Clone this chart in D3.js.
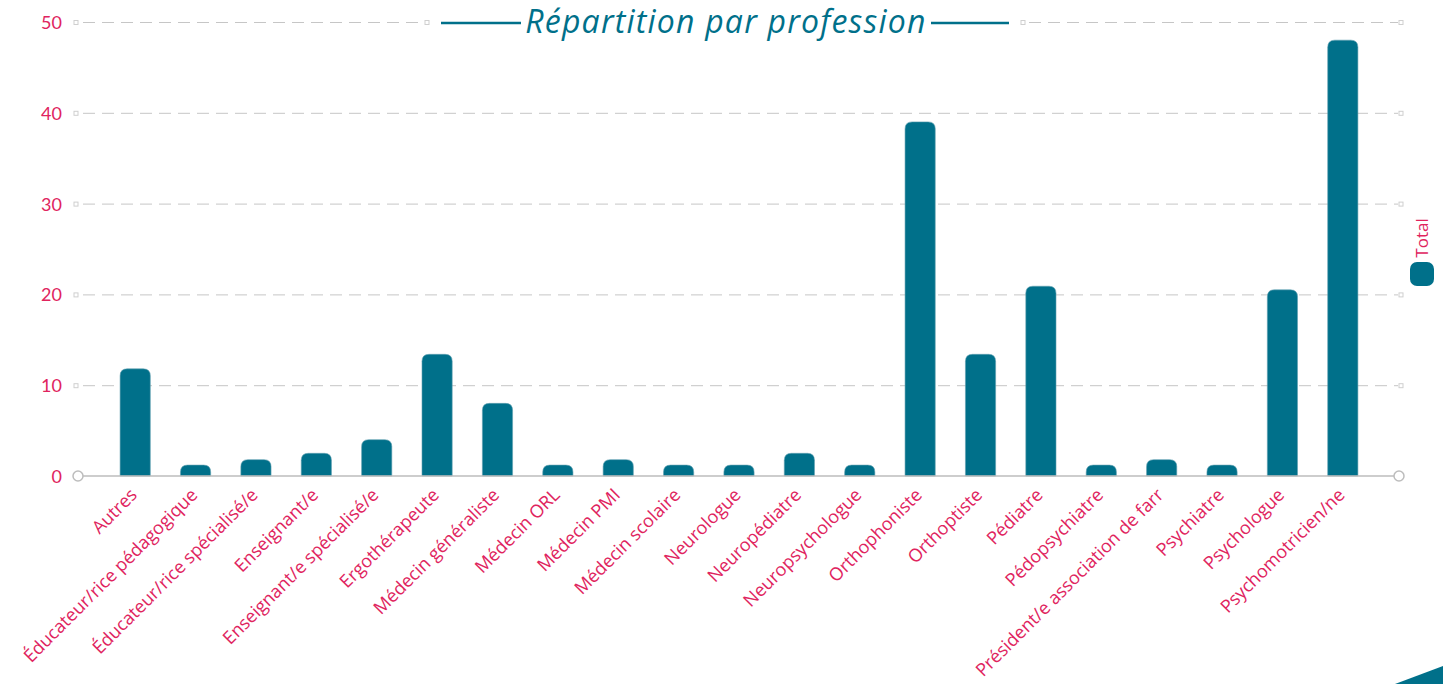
<!DOCTYPE html>
<html>
<head>
<meta charset="utf-8">
<script src="https://cdn.jsdelivr.net/npm/d3@7"></script>
<style>
  html, body { margin: 0; padding: 0; background: #fff; }
  svg { display: block; font-family: "Open Sans", "Noto Sans", sans-serif; }
</style>
</head>
<body>
<div id="chart"></div>
<script>
// data
var professions = ["Autres", "Éducateur/rice pédagogique", "Éducateur/rice spécialisé/e",
  "Enseignant/e", "Enseignant/e spécialisé/e", "Ergothérapeute", "Médecin généraliste",
  "Médecin ORL", "Médecin PMI", "Médecin scolaire", "Neurologue", "Neuropédiatre",
  "Neuropsychologue", "Orthophoniste", "Orthoptiste", "Pédiatre", "Pédopsychiatre",
  "Président/e association de farr", "Psychiatre", "Psychologue", "Psychomotricien/ne"];
var totals = [11.8, 1.2, 1.8, 2.5, 4, 13.4, 8, 1.2, 1.8, 1.2, 1.2, 2.5, 1.2, 39, 13.4, 20.9, 1.2, 1.8, 1.2, 20.5, 48];
var yTicks = [0, 10, 20, 30, 40, 50];
var seriesName = "Total";
var title = "Répartition par profession";

var W = 1443, H = 684;
var teal = "#00708a", pink = "#e0245e", grid = "#c6c6c6";

var svg = d3.select("#chart").append("svg")
    .attr("width", W)
    .attr("height", H);

var x = d3.scaleBand()
    .domain(professions)
    .range([105, 1373])
    .paddingInner(0.5)
    .paddingOuter(0.25);

var y = d3.scaleLinear()
    .domain([0, 50])
    .range([476, 22]);

var left = 76, right = 1401;

// gridlines (dashed), broken by the title on the top one
var gl = svg.append("g");
yTicks.filter(function(d) { return d > 0; }).forEach(function(t) {
  var yy = y(t) + 0.5;
  var segs = t === 50 ? [[left + 3, 427], [1025, right - 3]] : [[left + 3, right - 3]];
  segs.forEach(function(s) {
    gl.append("line")
      .attr("x1", s[0]).attr("x2", s[1])
      .attr("y1", yy).attr("y2", yy)
      .attr("stroke", grid).attr("stroke-width", 1)
      .attr("stroke-dasharray", "12,7")
      .attr("stroke-dashoffset", -4);
  });
  var sq = t === 50 ? [left, 427, 1023, right] : [left, right];
  sq.forEach(function(px) {
    gl.append("rect")
      .attr("x", px - 2).attr("y", yy - 2)
      .attr("width", 4).attr("height", 4)
      .attr("fill", "#fff").attr("stroke", "#cfcfcf").attr("stroke-width", 1);
  });
});

// y axis labels
var yAxis = d3.axisLeft(y).tickValues(yTicks).tickSize(0).tickPadding(0);
var ya = svg.append("g")
    .attr("transform", "translate(62,0)")
    .call(yAxis);
ya.select(".domain").remove();
ya.selectAll("text")
    .attr("fill", pink)
    .attr("font-size", 18)
    .attr("font-family", "Lato, sans-serif")
    .attr("dy", "0.36em");

// bars with rounded tops
function barPath(x0, w, y0, y1, r) {
  var h = y1 - y0;
  r = Math.min(r, h, w / 2);
  return "M" + x0 + "," + y1 +
    "V" + (y0 + r) +
    "Q" + x0 + "," + y0 + " " + (x0 + r) + "," + y0 +
    "H" + (x0 + w - r) +
    "Q" + (x0 + w) + "," + y0 + " " + (x0 + w) + "," + (y0 + r) +
    "V" + y1 + "Z";
}

svg.append("g").selectAll("path")
  .data(professions)
  .enter()
  .append("path")
    .attr("d", function(d, i) {
      return barPath(x(d), x.bandwidth(), y(totals[i]), y(0), 7);
    })
    .attr("fill", teal)
    .attr("stroke", "#5f9fb0")
    .attr("stroke-width", 0.6);

// zero line with round end markers
svg.append("line")
  .attr("x1", left + 5).attr("x2", right - 7)
  .attr("y1", y(0)).attr("y2", y(0))
  .attr("stroke", "#bdbdbd").attr("stroke-width", 1.5);
[left + 2, right - 2].forEach(function(px) {
  svg.append("circle")
    .attr("cx", px).attr("cy", y(0)).attr("r", 5)
    .attr("fill", "#fff").attr("stroke", "#bdbdbd").attr("stroke-width", 1.5);
});

// x labels
var xAxis = d3.axisBottom(x).tickSize(0).tickPadding(0);
var xa = svg.append("g")
    .attr("transform", "translate(0," + y(0) + ")")
    .call(xAxis);
xa.select(".domain").remove();
xa.selectAll("text")
    .attr("fill", pink)
    .attr("font-size", 18)
    .attr("font-family", "'Open Sans', sans-serif")
    .attr("text-anchor", "end")
    .attr("dy", null)
    .attr("y", 0)
    .attr("transform", "translate(3,20) rotate(-45)");

// title
var tg = svg.append("g");
tg.append("line").attr("x1", 441).attr("x2", 521).attr("y1", 23).attr("y2", 23)
  .attr("stroke", teal).attr("stroke-width", 2.5);
tg.append("line").attr("x1", 931).attr("x2", 1009).attr("y1", 23).attr("y2", 23)
  .attr("stroke", teal).attr("stroke-width", 2.5);
tg.append("text")
  .attr("x", 726).attr("y", 33)
  .attr("text-anchor", "middle")
  .attr("font-family", "'Open Sans', sans-serif")
  .attr("font-style", "italic")
  .attr("font-size", 32)
  .attr("letter-spacing", 1.2)
  .attr("fill", teal)
  .text(title);

// legend
var lg = svg.append("g").attr("transform", "translate(1422,0)");
lg.append("rect")
  .attr("x", -12).attr("y", 262).attr("width", 24).attr("height", 24)
  .attr("rx", 7).attr("fill", teal);
lg.append("text")
  .attr("transform", "translate(6,238) rotate(-90)")
  .attr("text-anchor", "middle")
  .attr("font-size", 17)
  .attr("fill", pink)
  .text(seriesName);

// corner decoration
svg.append("path")
  .attr("d", "M1395," + H + "L" + W + ",666L" + W + "," + H + "Z")
  .attr("fill", teal);
</script>
</body>
</html>
